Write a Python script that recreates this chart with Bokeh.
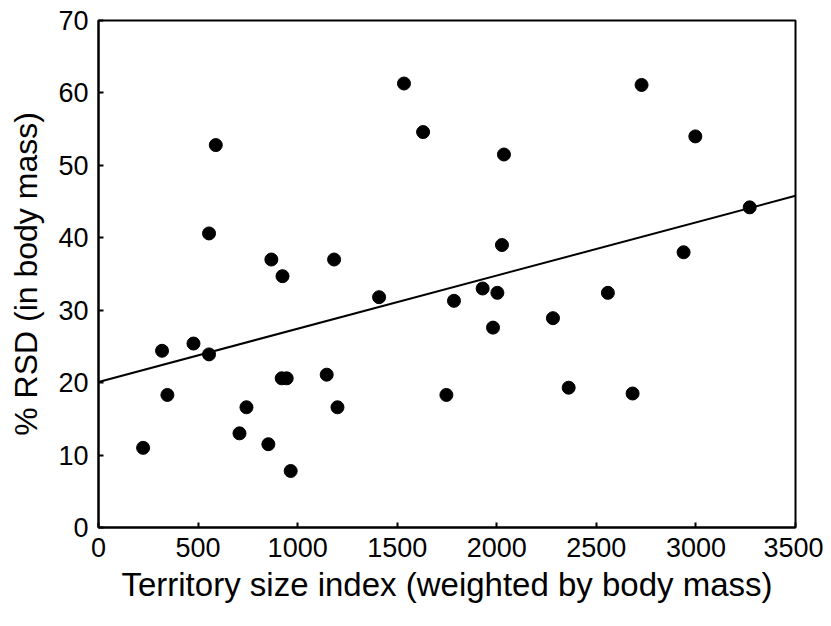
from bokeh.plotting import figure
from bokeh.models import Range1d, FixedTicker
from bokeh.embed import file_html
from bokeh.resources import INLINE

territory = [224, 319, 346, 477, 555, 555, 589, 708, 743, 853, 868, 924, 920, 945,
             965, 1146, 1183, 1200, 1409, 1534, 1630, 1747, 1785, 1929, 1981, 2003,
             2026, 2036, 2282, 2361, 2558, 2682, 2727, 2938, 2997, 3270]
rsd = [11.0, 24.4, 18.3, 25.4, 40.6, 23.9, 52.8, 13.0, 16.6, 11.5, 37.0, 34.7, 20.6, 20.6,
       7.8, 21.1, 37.0, 16.6, 31.8, 61.3, 54.6, 18.3, 31.3, 33.0, 27.6, 32.4,
       39.0, 51.5, 28.9, 19.3, 32.4, 18.5, 61.1, 38.0, 54.0, 44.2]
fit_x = [0, 3500]
fit_y = [20.1, 45.8]
x_ticks = [0, 500, 1000, 1500, 2000, 2500, 3000, 3500]
y_ticks = [0, 10, 20, 30, 40, 50, 60, 70]

FONT = "Liberation Sans"

W, H = 823, 618
p = figure(width=W, height=H, output_backend="svg", toolbar_location=None,
           x_range=Range1d(0, 3500), y_range=Range1d(0, 70),
           min_border_left=98, min_border_right=W - 795,
           min_border_top=20, min_border_bottom=H - 527)
p.background_fill_color = "white"
p.border_fill_color = "white"
p.grid.visible = False
p.outline_line_color = "black"
p.outline_line_width = 2

for ax in (p.xaxis[0], p.yaxis[0]):
    ax.axis_line_color = "black"
    ax.axis_line_width = 2
    ax.major_tick_in = 5
    ax.major_tick_out = 0
    ax.minor_tick_line_color = None
    ax.major_tick_line_color = "black"
    ax.major_tick_line_width = 2
    ax.major_label_text_font = FONT
    ax.major_label_text_font_size = "27px"
    ax.major_label_text_color = "black"
    ax.axis_label_text_font = FONT
    ax.axis_label_text_font_style = "normal"
    ax.axis_label_text_color = "black"

p.xaxis.axis_label_text_font_size = "33px"
p.yaxis.axis_label_text_font_size = "32px"
p.xaxis.ticker = FixedTicker(ticks=x_ticks)
p.yaxis.ticker = FixedTicker(ticks=y_ticks)
p.xaxis.axis_label = "Territory size index (weighted by body mass)"
p.yaxis.axis_label = "% RSD (in body mass)"
p.xaxis.major_label_standoff = 10
p.yaxis.major_label_standoff = 10
p.xaxis.axis_label_standoff = 6
p.yaxis.axis_label_standoff = 11

p.line(fit_x, fit_y, line_color="black", line_width=2)
p.scatter(territory, rsd, size=13, fill_color="black", line_color="black")

open("out.html", "w").write(file_html(p, INLINE))
